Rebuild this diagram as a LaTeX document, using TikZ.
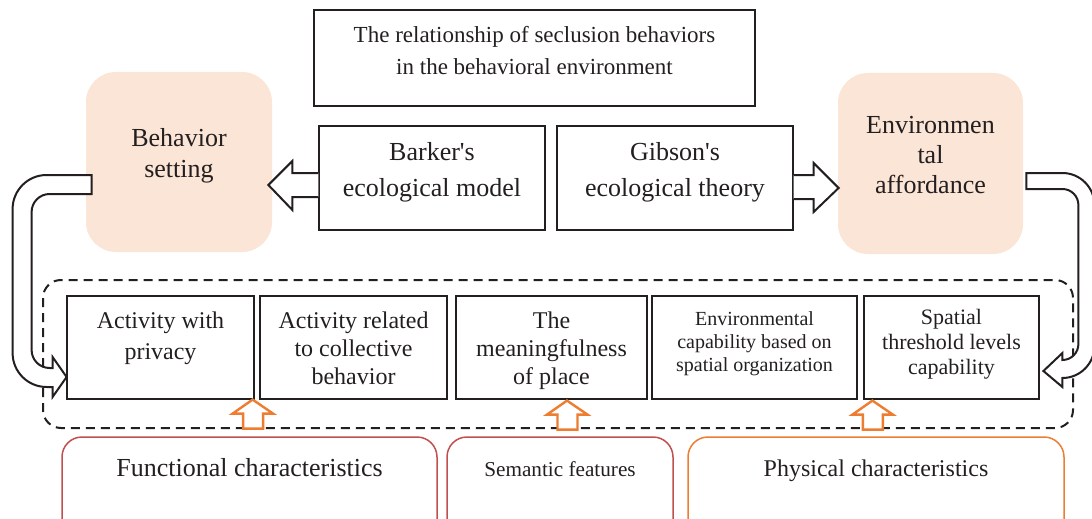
\documentclass[tikz,border=0pt]{standalone}
\usepackage{fontspec}
\setmainfont{Liberation Serif}
\usetikzlibrary{calc}
\definecolor{peach}{RGB}{251,229,214}
\definecolor{ink}{RGB}{35,31,32}
\definecolor{brick}{RGB}{192,80,77}
\definecolor{tangerine}{RGB}{237,125,49}

\begin{document}
\begin{tikzpicture}[x=0.5pt,y=-0.5pt,text=ink,
  framebox/.style={draw=ink,line width=0.6pt,align=center,text depth=0pt},
  soft/.style={fill=peach,rounded corners=15pt,align=center,text depth=0pt,
    minimum width=93pt,minimum height=90pt,font=\fontsize{13pt}{15.5pt}\selectfont},
  theory/.style={framebox,minimum width=113pt,minimum height=52pt,
    font=\fontsize{13pt}{17.5pt}\selectfont,text height=18pt},
  trait/.style={framebox,minimum height=51.5pt,text height=36.5pt,
    font=\fontsize{12pt}{14pt}\selectfont},
  feature/.style={draw,line width=0.75pt,rounded corners=10pt,align=center,
    minimum height=60pt,text height=10pt,text depth=31pt},
  hollow/.style={draw=ink,fill=white,line width=1pt,line join=miter},
  lift/.style={draw=tangerine,fill=white,line width=1.2pt},
  group/.style={draw=ink,line width=1pt,dash pattern=on 4.5pt off 3pt,rounded corners=9pt}
]
\useasboundingbox (0,0) rectangle (1092,519);
\clip (0,0) rectangle (1092,519);

\node[framebox,minimum width=220.5pt,minimum height=48pt,text height=17pt,
  font=\fontsize{11.5pt}{16pt}\selectfont] (title) at (534.5,58)
  {The relationship of seclusion behaviors\\in the behavioral environment};

\node[soft,text height=15pt] (behav) at (179,162) {Behavior\\setting};
\node[soft,minimum width=92.5pt,minimum height=90.5pt,text height=29.5pt,
  font=\fontsize{13pt}{15pt}\selectfont] (env) at (930.5,163.5) {Environmen\\tal\\affordance};

\node[theory] (barker) at (432,178) {Barker\textquotesingle s\\ecological model};
\node[theory,minimum width=118pt] (gibson) at (675,178) {Gibson\textquotesingle s\\ecological theory};

\draw[hollow] ($(barker.west)+(0,-5)$) -- ++(-26,0) -- ++(0,-12) -- ++(-24,24)
  -- ++(24,25) -- ++(0,-13) -- ++(26,0);
\draw[hollow] ($(gibson.east)+(0,-3)$) -- ++(20,0) -- ++(0,-12) -- ++(25,25)
  -- ++(-25,24) -- ++(0,-13) -- ++(-20,0);

\draw[group] (43,280) rectangle (1073,428);

\node[trait,minimum width=93.5pt,text height=11.5pt,
  font=\fontsize{12pt}{15.5pt}\selectfont] (act1) at (160.5,347.5)
  {Activity with\\privacy};
\node[trait,minimum width=93.5pt] (act2) at (353.5,347.5)
  {Activity related\\to collective\\behavior};
\node[trait,minimum width=95.5pt] (place) at (551.5,347.5)
  {The\\meaningfulness\\of place};
\node[trait,minimum width=102.5pt,text height=23.5pt,
  font=\fontsize{10pt}{11.5pt}\selectfont] (envcap) at (754.5,347.5)
  {Environmental\\capability based on\\spatial organization};
\node[trait,minimum width=87.5pt,text height=26.5pt,
  font=\fontsize{11pt}{12.5pt}\selectfont] (thresh) at (951.5,347.5)
  {Spatial\\threshold levels\\capability};

\draw[hollow,rounded corners=17pt] ($(behav.west)+(6,13)$) -- ++(-79,0) -- ++(0,212)
  [sharp corners] -- ++(40,0) -- ++(0,10) -- ++(14,-20) -- ++(-14,-20) -- ++(0,11)
  [rounded corners=9pt] -- ++(-21,0) -- ++(0,-174) [sharp corners] -- ++(60,0) -- cycle;
\draw[hollow,rounded corners=16pt] ($(env.east)+(3,9.5)$) -- ++(68,0) -- ++(0,205)
  [sharp corners] -- ++(-32,0) -- ++(0,9) -- ++(-19,-16) -- ++(19,-18) -- ++(0,7)
  [rounded corners=8pt] -- ++(16,0) -- ++(0,-171) [sharp corners] -- ++(-52,0) -- cycle;

\coordinate (up1) at ($(act1.south east)+(-2,0)$);
\coordinate (up2) at ($(place.south)+(15.5,1)$);
\coordinate (up3) at ($(thresh.south west)+(9,1)$);
\foreach \p in {up1,up2,up3}
  \draw[lift] (\p) -- ++(20.5,14) -- ++(-10,0) -- ++(0,15) -- ++(-20,0)
    -- ++(0,-15) -- ++(-10.5,0) -- cycle;

\node[feature,draw=brick,minimum width=187.5pt,font=\fontsize{13pt}{15pt}\selectfont]
  (func) at (249.5,497) {Functional characteristics};
\node[feature,draw=brick,minimum width=113pt,font=\fontsize{10.6pt}{13pt}\selectfont]
  (sem) at (560,497) {Semantic features};
\node[feature,draw=tangerine,minimum width=188pt,font=\fontsize{12pt}{14pt}\selectfont]
  (phys) at (876,497) {Physical characteristics};
\end{tikzpicture}
\end{document}
